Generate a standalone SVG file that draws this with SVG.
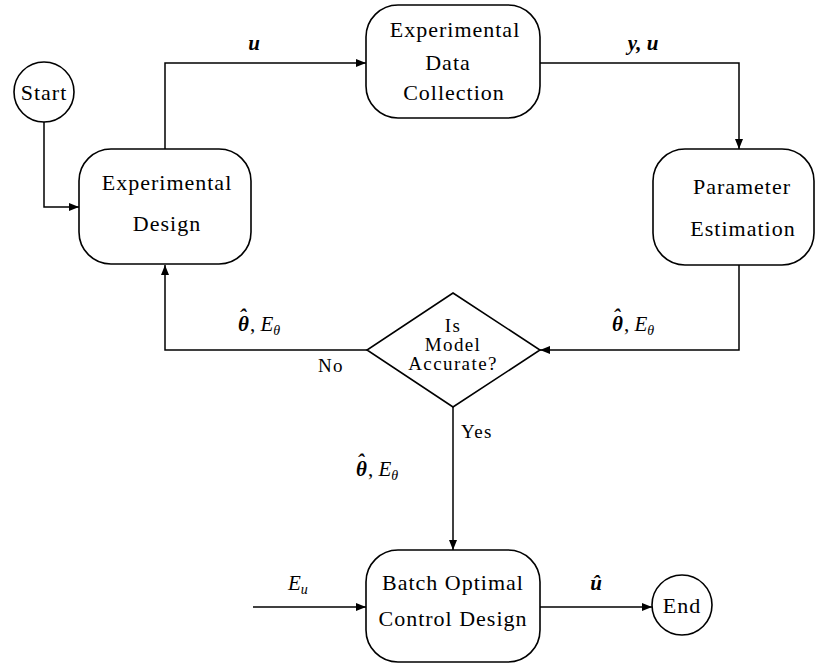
<svg xmlns="http://www.w3.org/2000/svg" width="816" height="665" viewBox="0 0 816 665">
<defs>
<marker id="arr" viewBox="0 0 10 8" refX="10" refY="4" markerWidth="10" markerHeight="8" markerUnits="userSpaceOnUse" orient="auto">
<path d="M0,0 L10,4 L0,8 z" fill="#000"/>
</marker>
<style>
.shape{fill:#fff;stroke:#000;stroke-width:1.6}
.edge{fill:none;stroke:#000;stroke-width:1.5;marker-end:url(#arr)}
text{font-family:'Liberation Serif','DejaVu Serif',serif;fill:#000}
.t{font-size:22px;letter-spacing:1px;text-anchor:middle}
.s{font-size:19px;letter-spacing:1.4px;text-anchor:middle}
.m{font-size:21px;font-style:italic}
.b{font-weight:bold}
.sub{font-size:14px}
</style>
</defs>
<g id="connectors">
<path class="edge" d="M44,122 V207 H79"/>
<path class="edge" d="M165,149 V63 H366"/>
<path class="edge" d="M540,63 H739 V149"/>
<path class="edge" d="M739,265 V350 H540"/>
<path class="edge" d="M367,350 H165 V265"/>
<path class="edge" d="M453,407 V550"/>
<path class="edge" d="M253,607 H366"/>
<path class="edge" d="M540,607 H652"/>
</g>
<g id="labels">
<text class="m b" x="254" y="50" text-anchor="middle">u</text>
<text class="m b" x="643" y="50" text-anchor="middle">y, u</text>
<text class="m" x="612" y="331"><tspan font-weight="bold">θ</tspan><tspan font-weight="bold" dx="-10" dy="-7">ˆ</tspan><tspan font-style="normal" dx="4" dy="7">,</tspan> E<tspan class="sub" dy="4">θ</tspan></text>
<text class="m" x="238" y="331"><tspan font-weight="bold">θ</tspan><tspan font-weight="bold" dx="-10" dy="-7">ˆ</tspan><tspan font-style="normal" dx="4" dy="7">,</tspan> E<tspan class="sub" dy="4">θ</tspan></text>
<text class="m" x="356" y="476"><tspan font-weight="bold">θ</tspan><tspan font-weight="bold" dx="-10" dy="-7">ˆ</tspan><tspan font-style="normal" dx="4" dy="7">,</tspan> E<tspan class="sub" dy="4">θ</tspan></text>
<text class="s" x="331" y="372">No</text>
<text class="s" x="477" y="438">Yes</text>
<text class="m" x="288" y="590">E<tspan class="sub" dy="4">u</tspan></text>
<text class="m b" x="596" y="590" text-anchor="middle">û</text>
</g>
<g id="start">
<circle class="shape" cx="44" cy="92" r="30"/>
<text class="t" x="44" y="100">Start</text>
</g>
<g id="exp-design">
<rect class="shape" x="79" y="149" width="172" height="115" rx="32" ry="32"/>
<text class="t" x="167" y="190">Experimental</text>
<text class="t" x="167" y="231">Design</text>
</g>
<g id="data-collection">
<rect class="shape" x="366" y="5" width="174" height="113" rx="32" ry="32"/>
<text class="t" x="455" y="37">Experimental</text>
<text class="t" x="448" y="70">Data</text>
<text class="t" x="454" y="100">Collection</text>
</g>
<g id="param-est">
<rect class="shape" x="653" y="149" width="161" height="116" rx="32" ry="32"/>
<text class="t" x="742" y="194">Parameter</text>
<text class="t" x="743" y="236">Estimation</text>
</g>
<g id="decision">
<path class="shape" d="M453,293 L540,350 L453,407 L367,350 Z"/>
<text class="s" x="453" y="332">Is</text>
<text class="s" x="453" y="351">Model</text>
<text class="s" x="453" y="370">Accurate?</text>
</g>
<g id="batch">
<rect class="shape" x="366" y="550" width="174" height="112" rx="32" ry="32"/>
<text class="t" x="453" y="590">Batch Optimal</text>
<text class="t" x="453" y="626">Control Design</text>
</g>
<g id="end">
<circle class="shape" cx="682" cy="605" r="30"/>
<text class="t" x="682" y="613">End</text>
</g>
</svg>
